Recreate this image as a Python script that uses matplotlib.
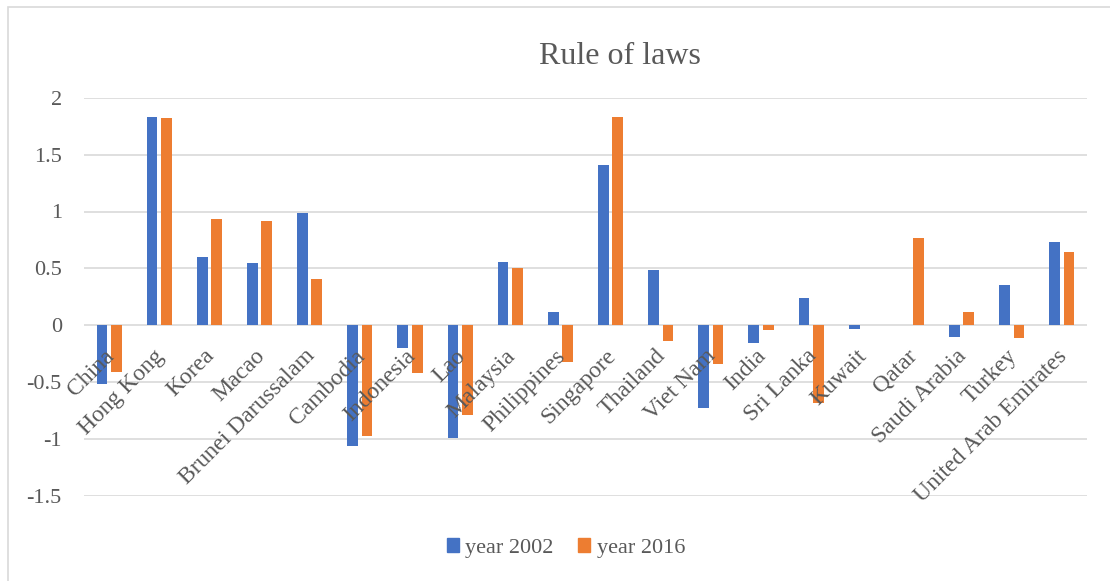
import matplotlib
matplotlib.use("Agg")
import matplotlib.pyplot as plt
import matplotlib.transforms as mtransforms
from matplotlib.patches import Patch, Rectangle
import numpy as np

# rule of law scores per economy
countries = ["China", "Hong Kong", "Korea", "Macao", "Brunei Darussalam",
             "Cambodia", "Indonesia", "Lao", "Malaysia", "Philippines",
             "Singapore", "Thailand", "Viet Nam", "India", "Sri Lanka",
             "Kuwait", "Qatar", "Saudi Arabia", "Turkey", "United Arab Emirates"]
year_2002 = [-0.52, 1.83, 0.60, 0.55, 0.99, -1.06, -0.20, -0.99, 0.56, 0.12,
             1.41, 0.49, -0.73, -0.155, 0.24, -0.03, 0.0, -0.10, 0.35, 0.73]
year_2016 = [-0.41, 1.82, 0.93, 0.92, 0.41, -0.97, -0.42, -0.79, 0.50, -0.32,
             1.83, -0.14, -0.34, -0.044, -0.68, 0.0, 0.77, 0.12, -0.11, 0.64]
yticks = [-1.5, -1, -0.5, 0, 0.5, 1, 1.5, 2]

blue = "#4472C4"
orange = "#ED7D31"
grey_txt = "#595959"
grid_col = "#D9D9D9"
font = "Liberation Serif"

W, H = 1110, 581
fig = plt.figure(figsize=(W / 100, H / 100), dpi=100)
fig.patch.set_facecolor("white")

# chart border (runs off the right and bottom edges)
fig.patches.append(Rectangle((8 / W, -0.2), 1.2, 1.2 - 7 / H,
                             transform=fig.transFigure, fill=False,
                             edgecolor=grid_col, linewidth=1.2))

ax = fig.add_axes([84 / W, (H - 496) / H, (1087 - 84) / W, (496 - 97.7) / H])
x = np.arange(len(countries))
bw = 0.215
ax.bar(x - 0.143, year_2002, bw, color=blue, label="year 2002", zorder=3)
ax.bar(x + 0.143, year_2016, bw, color=orange, label="year 2016", zorder=3)

ax.set_xlim(-0.5, len(countries) - 0.5)
ax.set_ylim(-1.5, 2)
ax.set_yticks(yticks)
ax.set_yticklabels([f"{t:g}" for t in yticks], fontfamily=font, fontsize=16, color=grey_txt)
ax.tick_params(axis="y", length=0, pad=16)
ax.set_xticks([])
for s in ax.spines.values():
    s.set_visible(False)
ax.grid(axis="y", color=grid_col, linewidth=1.2, zorder=0)
ax.set_axisbelow(True)

# rotated category names hanging just below the zero line
offset = mtransforms.ScaledTranslation(-4 / 72, -14.5 / 72, fig.dpi_scale_trans)
for i, name in enumerate(countries):
    ax.text(i, 0, name, rotation=45, rotation_mode="anchor", ha="right", va="top",
            fontfamily=font, fontsize=17, color=grey_txt,
            transform=ax.transData + offset, zorder=4)

fig.text(620 / W, 1 - 57 / H, "Rule of laws", ha="center", va="center",
         fontfamily=font, fontsize=23, color=grey_txt)

handles = [Patch(color=blue, label="year 2002"), Patch(color=orange, label="year 2016")]
leg = fig.legend(handles=handles, loc="center", bbox_to_anchor=(566 / W, 1 - 548 / H),
                 ncol=2, frameon=False, handlelength=0.55, handleheight=0.55,
                 handletextpad=0.3, columnspacing=1.1,
                 prop={"family": font, "size": 16})
for t in leg.get_texts():
    t.set_color(grey_txt)

fig.savefig("out.png", dpi=100)
